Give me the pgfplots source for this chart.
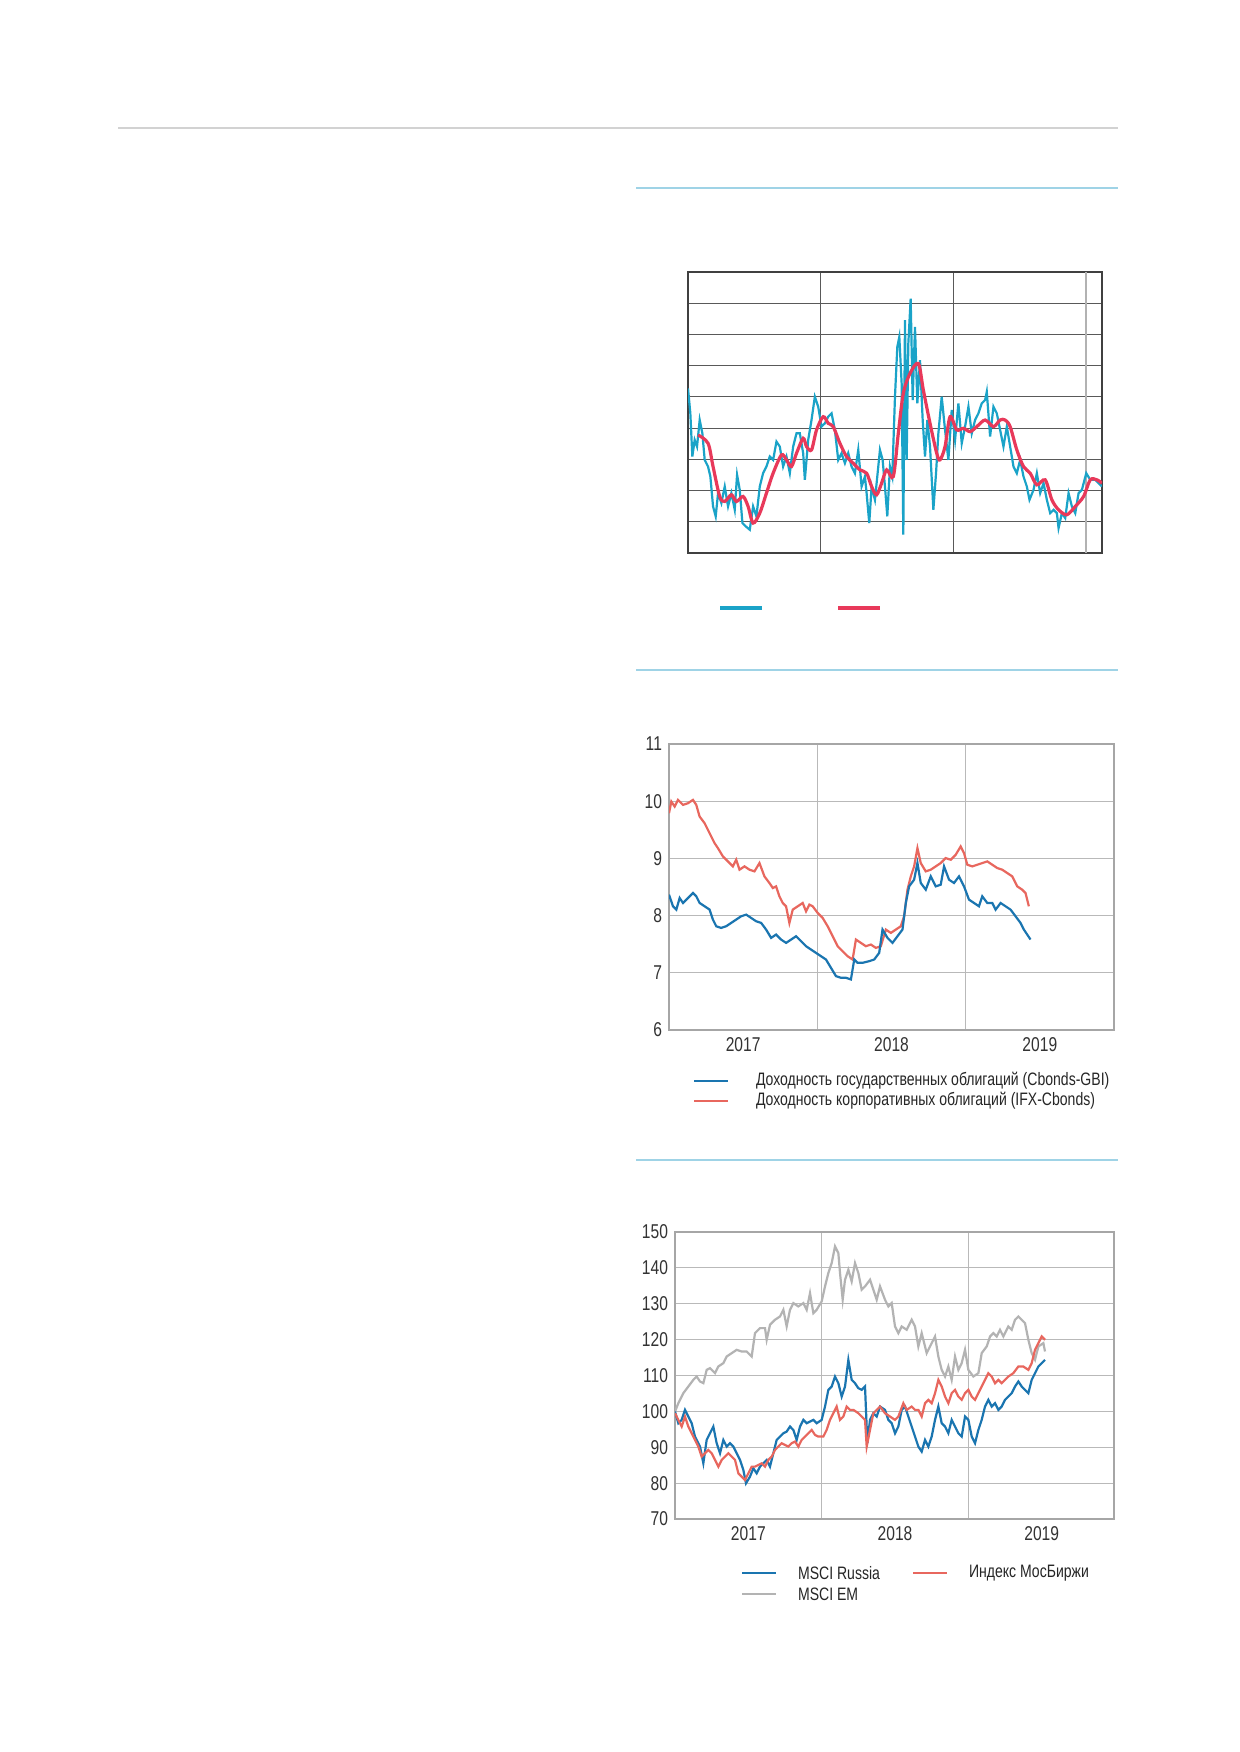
\documentclass[border=0pt]{standalone}
\usepackage{pgfplots}
\pgfplotsset{compat=1.18}
\usepackage{pgfplotstable}
\usepackage{fontspec}
\setmainfont{Liberation Sans}[FakeStretch=0.78]
\definecolor{cyanb}{HTML}{1AA3C8}
\definecolor{redp}{HTML}{E8395A}
\definecolor{blueb}{HTML}{1A75B0}
\definecolor{redc}{HTML}{E8675E}
\definecolor{grayem}{HTML}{B3B3B3}
\definecolor{rule}{HTML}{9FD3E6}
\pgfplotstableread[header=false]{
145 385
152 460
158 590
165 540
172 560
180 480
188 520
195 600
205 620
212 650
220 740
228 770
235 700
245 730
255 680
265 740
275 700
285 750
292 645
300 690
308 790
318 800
330 810
340 740
350 770
360 680
370 640
380 620
390 590
400 600
410 545
420 560
430 620
440 590
450 640
460 560
470 520
480 520
490 580
495 660
505 540
515 480
525 410
535 440
545 500
555 490
565 470
575 460
585 510
595 600
605 580
615 610
625 580
635 620
645 640
655 570
665 680
675 650
680 700
688 790
695 680
705 720
712 650
720 570
728 600
735 680
742 770
750 620
757 650
765 410
772 260
778 230
785 370
790 825
795 180
800 600
805 250
812 115
818 420
825 200
832 430
840 300
848 480
855 590
862 480
870 560
880 750
888 640
895 520
905 410
915 510
925 600
935 450
945 540
955 430
965 550
975 500
985 440
995 520
1005 480
1015 460
1025 430
1035 420
1040 395
1050 530
1060 440
1070 460
1080 510
1090 560
1100 500
1110 560
1120 620
1130 640
1140 600
1150 650
1160 680
1168 720
1180 690
1190 640
1200 700
1210 670
1220 720
1230 760
1240 750
1250 760
1255 805
1265 760
1275 775
1285 700
1295 740
1305 760
1315 700
1325 690
1338 640
1350 660
1365 660
1385 680
}\tA
\pgfplotstableread[header=false]{
175 525
205 550
220 620
240 710
255 725
275 705
290 725
310 710
325 740
340 790
360 760
380 700
400 640
425 585
440 600
455 620
470 580
490 535
500 560
515 570
530 510
550 470
565 490
580 500
600 550
620 590
640 610
660 630
680 640
695 680
710 705
725 670
740 630
760 650
775 520
790 400
810 340
835 310
850 390
870 490
890 580
900 600
915 560
930 470
950 510
970 505
990 515
1010 500
1035 480
1060 500
1080 480
1095 480
1110 500
1130 570
1150 620
1170 640
1190 675
1215 660
1235 720
1255 750
1280 765
1305 740
1330 710
1350 660
1370 660
1385 670
}\tB
\pgfplotstableread[header=false]{
88 250
95 215
105 230
115 210
130 225
145 220
160 210
170 225
180 260
195 280
210 310
225 340
235 355
250 380
265 395
280 410
290 390
300 420
315 410
330 420
345 425
360 400
375 440
390 460
400 475
410 470
420 500
430 520
440 530
450 580
460 540
475 530
490 520
500 545
510 525
520 530
535 550
550 565
565 590
580 620
595 650
610 665
625 680
640 690
650 630
665 640
680 650
695 645
710 655
725 650
740 600
755 610
770 600
785 590
795 560
805 480
815 440
825 410
835 355
845 400
860 425
875 420
890 410
905 400
920 385
935 390
950 375
965 350
975 370
985 405
1000 410
1015 405
1030 400
1045 395
1060 405
1075 415
1090 420
1105 430
1120 440
1135 470
1150 480
1160 490
1170 530
}\tC
\pgfplotstableread[header=false]{
88 495
100 530
110 540
120 505
130 520
145 505
160 490
170 500
180 520
195 530
210 540
220 570
230 590
245 595
260 590
275 580
290 570
305 560
320 555
335 565
350 575
365 580
380 600
395 625
410 615
425 630
440 640
455 630
470 620
485 635
500 650
515 660
530 670
545 680
560 690
575 715
590 740
605 745
620 745
635 750
645 690
655 700
670 700
690 695
705 690
720 670
730 600
745 625
760 640
775 620
790 600
800 520
810 470
825 450
835 400
845 460
860 480
875 440
890 470
905 465
915 410
930 450
945 460
960 440
975 470
990 510
1005 520
1020 530
1030 500
1045 520
1060 520
1070 540
1085 520
1100 530
1115 540
1130 560
1145 580
1155 600
1175 630
}\tD
\pgfplotstableread[header=false]{
105 575
115 550
130 520
145 500
160 480
170 470
180 485
190 490
200 450
210 445
225 460
235 440
250 430
260 410
275 400
290 390
305 395
320 395
335 410
345 340
360 325
375 325
380 360
390 315
405 300
420 290
430 270
440 320
450 270
460 250
475 260
490 250
500 270
510 220
520 280
530 270
545 245
555 200
565 160
575 130
585 80
595 100
600 160
608 240
615 180
625 150
635 185
645 130
655 160
665 210
675 200
690 180
700 210
710 240
720 200
735 240
745 260
755 250
765 320
775 340
785 320
800 330
815 300
825 320
835 380
845 340
860 400
870 380
885 350
895 410
905 450
915 470
925 440
935 480
945 410
955 450
965 430
975 390
985 450
1000 470
1015 460
1025 400
1040 380
1050 350
1060 340
1070 350
1080 330
1090 350
1105 320
1115 330
1125 300
1135 290
1145 300
1155 310
1165 360
1175 400
1185 420
1195 380
1210 370
1215 395
}\tE
\pgfplotstableread[header=false]{
105 575
115 610
125 600
135 570
145 590
155 610
165 650
180 680
190 730
200 660
210 640
220 620
230 670
240 700
250 660
260 680
270 670
280 680
290 700
300 720
310 750
318 790
330 770
340 745
350 760
360 740
370 730
380 720
390 740
400 700
410 660
420 650
430 640
440 635
450 620
460 630
470 660
480 620
490 600
500 610
510 605
520 600
530 610
545 600
555 560
565 510
575 500
585 470
595 490
605 530
615 500
625 420
635 480
645 490
655 505
665 510
675 500
682 670
690 600
700 580
710 590
720 560
735 570
745 600
755 610
765 640
775 620
785 570
795 560
805 590
815 620
825 650
835 680
845 695
855 660
865 680
875 650
885 600
895 560
905 610
915 620
925 640
935 600
945 620
955 640
965 650
975 590
985 600
995 650
1005 670
1015 630
1025 600
1035 560
1045 540
1055 560
1065 550
1075 570
1085 560
1095 540
1105 530
1115 520
1125 500
1135 485
1145 500
1155 510
1165 520
1175 480
1185 460
1195 440
1205 430
1215 420
}\tF
\pgfplotstableread[header=false]{
105 580
115 600
125 620
135 590
145 620
155 640
165 660
175 680
185 710
195 700
205 690
215 700
225 720
235 740
245 720
255 710
265 700
275 710
285 720
295 760
305 770
315 780
325 760
335 740
345 740
355 735
365 730
375 740
385 720
395 710
405 690
415 680
425 670
435 675
445 680
455 670
465 665
475 680
485 660
495 650
505 640
515 630
525 645
535 650
550 650
560 630
570 600
580 580
590 560
600 600
610 590
620 560
630 570
640 570
655 580
665 590
675 600
680 680
690 630
700 580
710 570
720 560
735 580
750 590
765 600
775 590
790 550
800 570
815 560
825 570
835 570
845 590
855 550
865 540
875 550
885 520
895 480
905 500
915 530
925 550
935 520
945 510
955 530
965 540
975 520
985 510
995 530
1005 540
1015 520
1025 500
1035 480
1045 460
1055 470
1065 490
1075 480
1085 490
1095 480
1105 470
1120 460
1135 440
1150 440
1165 450
1175 430
1185 390
1195 370
1205 350
1215 360
}\tG
\begin{document}
\begin{tikzpicture}
\begin{scope}[x=0.5pt,y=-0.5pt]
\fill[white] (0,0) rectangle (1239,1752);
\draw[gray!35, line width=0.6pt] (118,128) -- (1118,128);
\foreach \yy in {188,670,1160} \draw[rule, line width=0.6pt] (636,\yy) -- (1118,\yy);
\draw[cyanb, line width=1.6pt] (720,608) -- (762,608);
\draw[redp, line width=1.6pt] (838,608) -- (880,608);
\draw[blueb, line width=1.2pt] (694,1081) -- (728,1081);
\draw[redc, line width=1.2pt] (694,1101) -- (728,1101);
\node[anchor=west, font=\fontsize{9}{11}\selectfont, text=black!85] at (749,1081) {Доходность государственных облигаций (Cbonds-GBI)};
\node[anchor=west, font=\fontsize{9}{11}\selectfont, text=black!85] at (749,1101) {Доходность корпоративных облигаций (IFX-Cbonds)};
\draw[blueb, line width=1.2pt] (742,1573) -- (776,1573);
\draw[grayem, line width=1.2pt] (742,1594) -- (776,1594);
\draw[redc, line width=1.2pt] (913,1573) -- (947,1573);
\node[anchor=west, font=\fontsize{9}{11}\selectfont, text=black!85] at (791,1573) {MSCI Russia};
\node[anchor=west, font=\fontsize{9}{11}\selectfont, text=black!85] at (791,1594) {MSCI EM};
\node[anchor=west, font=\fontsize{9}{11}\selectfont, text=black!85] at (962,1573) {Индекс МосБиржи};
\end{scope}
% chart 1
\begin{axis}[at={(344pt,-136pt)}, anchor=north west, scale only axis,
  width=207pt, height=140.5pt, xmin=0, xmax=3.116, ymin=0, ymax=9,
  xtick={1,2,3}, ytick={1,...,8}, xticklabels={}, yticklabels={},
  major tick length=0pt, grid=major, grid style={black!65, line width=0.5pt},
  axis line style={black!75, line width=0.6pt}]
\draw[gray!60, line width=1.2pt] (axis cs:2.997,0) -- (axis cs:2.997,9);
\addplot[cyanb, line width=1.1pt] table[x expr=(\thisrowno{0}-145)/398, y expr=(880-\thisrowno{1})/93.9] {\tA};
\addplot[redp, line width=1.6pt, smooth] table[x expr=(\thisrowno{0}-145)/398, y expr=(880-\thisrowno{1})/93.9] {\tB};
\end{axis}
% chart 2
\begin{axis}[at={(334.5pt,-372pt)}, anchor=north west, scale only axis,
  width=222.5pt, height=143pt, xmin=0, xmax=3, ymin=6, ymax=11,
  xtick={1,2}, xticklabels={}, extra x ticks={0.5,1.5,2.5},
  extra x tick labels={2017,2018,2019}, extra x tick style={grid=none},
  ytick={6,...,11}, major tick length=0pt,
  grid=major, grid style={gray!55, line width=0.5pt},
  axis line style={gray!70, line width=0.6pt},
  tick label style={font=\fontsize{10}{12}\selectfont, text=black!80},
  /pgf/number format/assume math mode=true]
\addplot[redc, line width=1.1pt] table[x expr=(\thisrowno{0}-88)/446, y expr=11-(\thisrowno{1}-42)/172] {\tC};
\addplot[blueb, line width=1.1pt] table[x expr=(\thisrowno{0}-88)/446, y expr=11-(\thisrowno{1}-42)/172] {\tD};
\end{axis}
% chart 3
\begin{axis}[at={(337.5pt,-616pt)}, anchor=north west, scale only axis,
  width=219.5pt, height=143.5pt, xmin=0, xmax=2.993, ymin=70, ymax=150,
  xtick={1,2}, xticklabels={}, extra x ticks={0.5,1.5,2.5},
  extra x tick labels={2017,2018,2019}, extra x tick style={grid=none},
  ytick={70,80,...,150}, major tick length=0pt,
  grid=major, grid style={gray!55, line width=0.5pt},
  axis line style={gray!70, line width=0.6pt},
  tick label style={font=\fontsize{10}{12}\selectfont, text=black!80},
  /pgf/number format/assume math mode=true]
\addplot[grayem, line width=1.1pt] table[x expr=(\thisrowno{0}-105)/440, y expr=150-(\thisrowno{1}-37)/10.75] {\tE};
\addplot[blueb, line width=1.1pt] table[x expr=(\thisrowno{0}-105)/440, y expr=150-(\thisrowno{1}-37)/10.75] {\tF};
\addplot[redc, line width=1.1pt] table[x expr=(\thisrowno{0}-105)/440, y expr=150-(\thisrowno{1}-37)/10.75] {\tG};
\end{axis}
\end{tikzpicture}
\end{document}
